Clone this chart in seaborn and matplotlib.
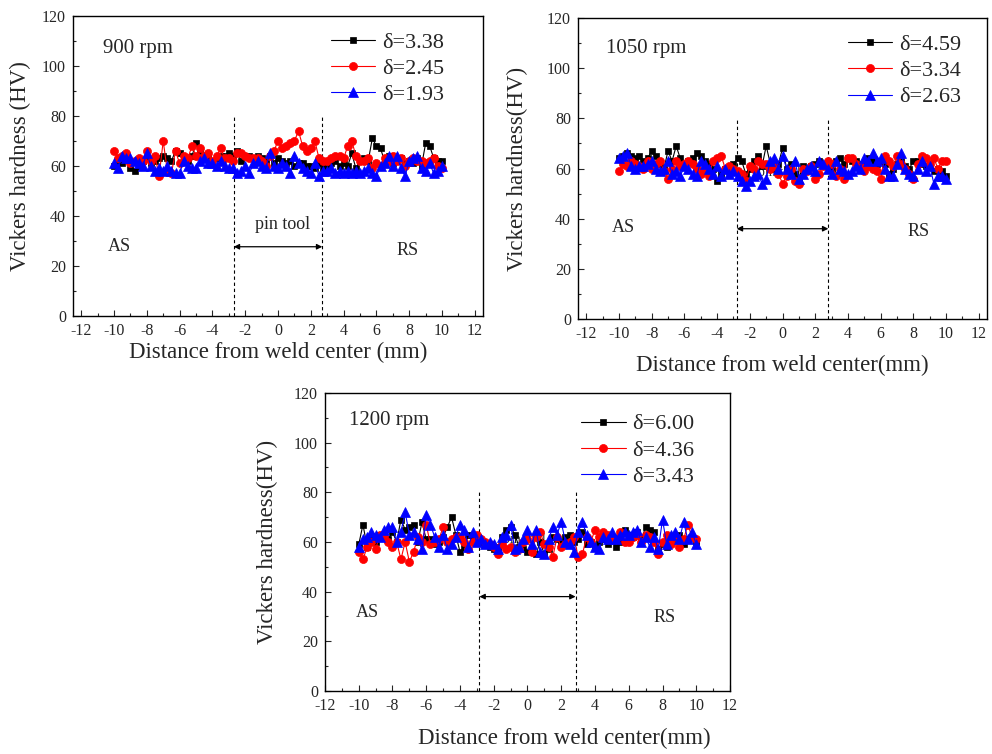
import numpy as np
import pandas as pd
import matplotlib
matplotlib.use("Agg")
import matplotlib.pyplot as plt
from matplotlib.ticker import MultipleLocator
import seaborn as sns

# measurement positions (mm), 0.25 mm step
x_mm = np.linspace(-10, 10, 81)

# 900 rpm
hv_900_338 = [60, 62, 61, 63, 59, 58, 60, 62, 63, 61, 62, 63, 64, 63, 62, 66,
              65, 63, 62, 64, 69, 66, 64, 63, 62, 63, 64, 64, 65, 64, 66, 62,
              64, 64, 63, 64, 63, 62, 64, 61, 63, 62, 61, 62, 60, 61, 61, 60,
              60, 59, 61, 59, 60, 61, 62, 60, 61, 60, 65, 59, 62, 63, 62, 71,
              68, 67, 62, 64, 61, 62, 63, 61, 62, 61, 63, 60, 69, 68, 63, 62, 62]
hv_900_245 = [66, 63, 64, 65, 61, 62, 63, 62, 66, 62, 64, 56, 70, 58, 57, 66,
              61, 64, 63, 68, 64, 67, 64, 65, 62, 64, 67, 63, 63, 62, 65, 65,
              64, 63, 63, 63, 62, 60, 64, 66, 70, 67, 68, 69, 70, 74, 68, 66,
              67, 70, 63, 62, 62, 63, 64, 64, 63, 68, 70, 64, 62, 62, 63, 59,
              61, 60, 63, 62, 64, 62, 63, 60, 62, 63, 62, 62, 61, 62, 63, 60, 59]
hv_900_193 = [61, 59, 64, 63, 63, 62, 61, 60, 65, 60, 58, 59, 58, 60, 58, 57,
              57, 62, 60, 59, 59, 62, 63, 61, 61, 60, 62, 60, 59, 59, 57, 58,
              60, 57, 61, 62, 60, 59, 65, 60, 59, 61, 60, 57, 64, 61, 59, 58,
              57, 61, 56, 58, 58, 59, 57, 58, 57, 58, 57, 58, 57, 58, 59, 57,
              56, 60, 61, 64, 60, 64, 59, 56, 62, 63, 64, 59, 58, 61, 57, 58, 60]

# 1050 rpm
hv_1050_459 = [64, 65, 66, 65, 64, 65, 63, 64, 67, 65, 62, 60, 67, 63, 69, 64,
               62, 63, 64, 66, 65, 63, 62, 60, 55, 58, 60, 59, 62, 64, 63, 58,
               60, 63, 65, 61, 69, 62, 60, 62, 68, 60, 62, 58, 56, 61, 60, 61,
               62, 63, 61, 62, 60, 63, 64, 62, 64, 63, 63, 62, 62, 64, 63, 62,
               63, 62, 58, 60, 62, 63, 61, 60, 63, 63, 62, 61, 62, 59, 60, 59, 57]
hv_1050_334 = [59, 62, 61, 63, 62, 61, 60, 63, 60, 62, 63, 59, 56, 60, 63, 61,
               62, 63, 62, 60, 58, 60, 57, 63, 64, 65, 60, 61, 60, 59, 58, 55,
               61, 60, 63, 62, 62, 60, 61, 58, 54, 57, 60, 55, 54, 60, 59, 61,
               56, 58, 61, 63, 62, 57, 60, 56, 64, 64, 62, 61, 59, 61, 60, 59,
               56, 65, 63, 61, 65, 62, 60, 58, 56, 62, 65, 64, 62, 64, 60, 63, 63]
hv_1050_263 = [64, 65, 66, 61, 60, 61, 61, 62, 63, 60, 59, 60, 63, 58, 59, 57,
               61, 60, 58, 57, 63, 62, 60, 58, 61, 57, 60, 58, 59, 57, 55, 53,
               55, 57, 58, 54, 56, 63, 64, 60, 65, 60, 58, 63, 56, 58, 60, 61,
               59, 63, 62, 60, 58, 63, 60, 59, 58, 59, 61, 60, 64, 63, 66, 63,
               64, 60, 57, 57, 62, 66, 60, 58, 57, 60, 63, 59, 61, 54, 57, 57, 56]

# 1200 rpm
hv_1200_600 = [59, 67, 58, 61, 60, 63, 62, 61, 64, 60, 69, 65, 66, 67, 60, 68,
               61, 61, 59, 60, 62, 66, 70, 63, 56, 58, 63, 62, 62, 60, 59, 58,
               57, 58, 62, 65, 66, 63, 58, 57, 56, 57, 55, 60, 55, 57, 62, 61,
               60, 62, 63, 60, 61, 64, 59, 60, 58, 60, 61, 59, 62, 58, 60, 65,
               63, 62, 64, 61, 66, 65, 64, 57, 59, 58, 62, 61, 63, 59, 61, 62, 60]
hv_1200_436 = [56, 53, 58, 60, 57, 63, 62, 60, 58, 60, 53, 60, 52, 56, 62, 60,
               67, 59, 60, 61, 66, 60, 61, 62, 62, 60, 57, 60, 63, 61, 60, 59,
               58, 55, 59, 57, 58, 56, 57, 60, 61, 56, 62, 64, 59, 58, 54, 62,
               58, 59, 60, 62, 54, 55, 62, 60, 65, 62, 64, 63, 62, 61, 64, 60,
               60, 62, 63, 60, 63, 62, 60, 55, 60, 63, 59, 62, 58, 61, 67, 62, 61]
hv_1200_343 = [58, 61, 62, 64, 63, 62, 65, 66, 66, 60, 64, 72, 63, 64, 61, 57,
               71, 67, 62, 58, 63, 57, 59, 62, 67, 65, 58, 64, 60, 61, 59, 60,
               59, 57, 62, 63, 67, 57, 58, 61, 65, 59, 65, 56, 55, 61, 66, 63,
               68, 60, 59, 56, 64, 68, 63, 60, 58, 57, 62, 61, 64, 61, 63, 64,
               63, 64, 65, 60, 62, 58, 62, 57, 69, 59, 63, 64, 61, 68, 61, 64, 59]

panels = [
    dict(rpm="900 rpm", series=[hv_900_338, hv_900_245, hv_900_193],
         labels=["δ=3.38", "δ=2.45", "δ=1.93"]),
    dict(rpm="1050 rpm", series=[hv_1050_459, hv_1050_334, hv_1050_263],
         labels=["δ=4.59", "δ=3.34", "δ=2.63"]),
    dict(rpm="1200 rpm", series=[hv_1200_600, hv_1200_436, hv_1200_343],
         labels=["δ=6.00", "δ=4.36", "δ=3.43"]),
]

colors = ["black", "red", "blue"]
markers = ["s", "o", "^"]
msizes = [5.0, 5.8, 6.6]

sns.set_style("ticks")
plt.rcParams["font.family"] = ["Liberation Serif", "DejaVu Serif"]
plt.rcParams["axes.unicode_minus"] = False
plt.rcParams["xtick.direction"] = "in"
plt.rcParams["ytick.direction"] = "in"

fig = plt.figure(figsize=(9.92, 7.54), dpi=100)

# axes boxes in figure fractions
boxes = [
    [0.0736, 0.5809, 0.4133, 0.3979],
    [0.5827, 0.5769, 0.4123, 0.3992],
    [0.3276, 0.0836, 0.4083, 0.3952],
]
xlims = [(-12.5, 12.5), (-12.5, 12.5), (-12, 12)]
xlabels = ["Distance from weld center (mm)", "Distance from weld center(mm)",
           "Distance from weld center(mm)"]
ylabels = ["Vickers hardness (HV)", "Vickers hardness(HV)", "Vickers hardness(HV)"]
xlab_pos = [(0.50, -0.123), (0.50, -0.153), (0.59, -0.158)]
ylab_pos = [(-0.128, 0.50), (-0.147, 0.50), (-0.143, 0.50)]
pin_x = [2.7, 2.8, 2.85]
arrow_y = [27.7, 36, 38]
rpm_pos = [(-10.7, 107), (-10.8, 108), (-10.6, 109)]
as_pos = [(-9.7, 27.6), (-9.75, 36.4), (-9.5, 31.8)]
rs_pos = [(7.9, 26), (8.3, 35), (8.1, 29.4)]
leg_anchor = [(0.905, 0.945), (0.936, 0.945), (0.912, 0.93)]

for i, p in enumerate(panels):
    ax = fig.add_axes(boxes[i])
    for vals, lab, c, m, ms in zip(p["series"], p["labels"], colors, markers, msizes):
        sns.lineplot(x=x_mm, y=vals, color=c, marker=m, markersize=ms,
                     markeredgecolor=c, markeredgewidth=0.5, lw=0.8,
                     label=lab, ax=ax, sort=False, zorder=3)

    # pin tool region
    px = pin_x[i]
    for xv in (-px, px):
        ax.plot([xv, xv], [0, 80], ls=(0, (3, 2.5)), color="black", lw=0.8, zorder=2)
    ax.annotate("", xy=(px, arrow_y[i]), xytext=(-px, arrow_y[i]),
                arrowprops=dict(arrowstyle="<|-|>", color="black", lw=0.9,
                                mutation_scale=8, shrinkA=0, shrinkB=0))
    if i == 0:
        ax.text(0.3, 36.4, "pin tool", ha="center", va="center", fontsize=13)
    else:
        ax.text(-0.2, 58.5 if i == 1 else 61, "pin tool", ha="center", va="center",
                fontsize=10, zorder=1)

    ax.text(rpm_pos[i][0], rpm_pos[i][1], p["rpm"], ha="left", va="center", fontsize=15)
    ax.text(as_pos[i][0], as_pos[i][1], "AS", ha="center", va="center", fontsize=13)
    ax.text(rs_pos[i][0], rs_pos[i][1], "RS", ha="center", va="center", fontsize=13)

    ax.set_xlim(*xlims[i])
    ax.set_ylim(0, 120)
    ax.xaxis.set_major_locator(MultipleLocator(2))
    ax.xaxis.set_minor_locator(MultipleLocator(1))
    ax.yaxis.set_major_locator(MultipleLocator(20))
    ax.yaxis.set_minor_locator(MultipleLocator(10))
    ax.tick_params(which="major", length=4, width=0.8, labelsize=11.5, top=False, right=False)
    ax.tick_params(axis="x", which="major", pad=5)
    ax.tick_params(axis="y", which="major", pad=5)
    ax.tick_params(which="minor", length=2.5, width=0.8, top=False, right=False)
    for s in ax.spines.values():
        s.set_linewidth(1.0)
        s.set_color("black")

    ax.set_xlabel(xlabels[i], fontsize=16.5)
    ax.set_ylabel(ylabels[i], fontsize=16.5)
    ax.xaxis.label.set_va("center")
    ax.yaxis.label.set_va("center")
    ax.xaxis.set_label_coords(*xlab_pos[i])
    ax.yaxis.set_label_coords(*ylab_pos[i])

    ax.legend(loc="upper right", bbox_to_anchor=leg_anchor[i], frameon=False,
              fontsize=16, handlelength=2.0, handletextpad=0.3, labelspacing=0.25,
              borderpad=0, borderaxespad=0)

fig.savefig("out.png", dpi=100)
